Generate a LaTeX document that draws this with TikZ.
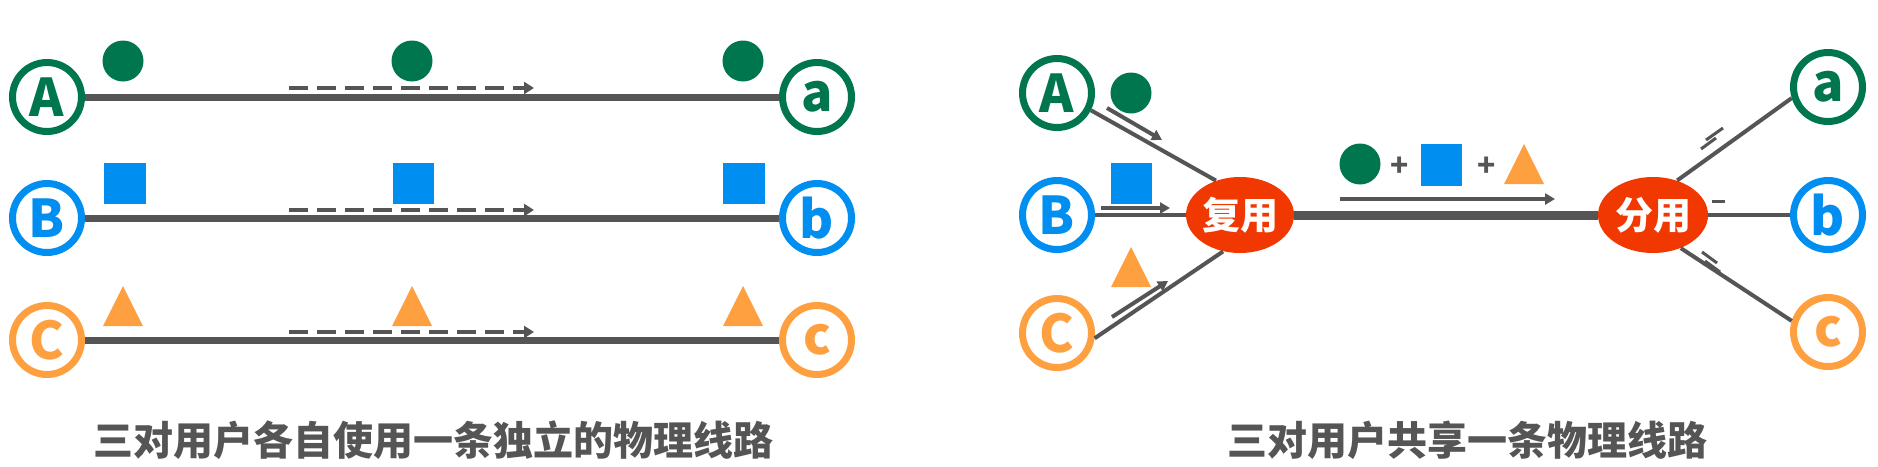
\documentclass[tikz,border=0pt]{standalone}
\usepackage{fontspec}
\setmainfont{Noto Sans CJK SC}
\usepackage{xcolor}
\usetikzlibrary{calc,arrows.meta,shapes.geometric}

\definecolor{usergreen}{RGB}{0,118,78}
\definecolor{userblue}{RGB}{0,142,240}
\definecolor{userorange}{RGB}{255,160,64}
\definecolor{muxred}{RGB}{240,56,0}
\definecolor{wiregray}{RGB}{85,85,85}

\tikzset{
  user/.style={circle, draw=#1, line width=3.5pt, fill=white, text=#1,
    minimum size=34.5pt, inner sep=0pt, font=\fontsize{26}{26}\selectfont\bfseries},
  wire/.style={draw=wiregray, line width=3.5pt},
  thinwire/.style={draw=wiregray, line width=2pt},
  trunk/.style={draw=wiregray, line width=4.5pt},
  flow/.style={draw=wiregray, line width=2.2pt, dash pattern=on 9.5pt off 4.5pt,
    -{Triangle[length=5pt,width=6pt]}},
  pointer/.style={draw=wiregray, line width=2pt, -{Triangle[length=5pt,width=5.5pt]}},
  tick/.style={draw=wiregray, line width=1.5pt},
  hub/.style={ellipse, fill=muxred, text=white, inner sep=0pt,
    minimum width=54pt, minimum height=38pt, font=\fontsize{19}{19}\selectfont\bfseries},
  caption/.style={text=wiregray, font=\fontsize{20}{20}\selectfont\bfseries},
  plus/.style={text=wiregray, inner sep=0pt, font=\fontsize{15}{15}\selectfont\bfseries}
}

\begin{document}
\begin{tikzpicture}[x=0.5pt,y=-0.5pt]
    \useasboundingbox (0,0) rectangle (1878,466);

    % Three separate lines
    \begin{scope}
        \node[user=usergreen] (uA) at (47,97) {A};
        \node[user=userblue] (uB) at (47,218) {B};
        \node[user=userorange] (uC) at (47,340) {C};
        \node[user=usergreen] (da) at (817,97) {a};
        \node[user=userblue] (db) at (817,218) {b};
        \node[user=userorange] (dc) at (817,340) {c};

        \draw[wire] (uA) -- (da);
        \draw[wire] (uB) -- (db);
        \draw[wire] (uC) -- (dc);

        \draw[flow] (289,88) -- (534,88);
        \draw[flow] (289,210) -- (534,210);
        \draw[flow] (289,332) -- (534,332);

        \fill[usergreen] (123,61) circle (20.5);
        \fill[usergreen] (412,61) circle (20.5);
        \fill[usergreen] (743,61) circle (20.5);
        \fill[userblue] (104,163) rectangle (146,204);
        \fill[userblue] (393,163) rectangle (434,204);
        \fill[userblue] (723,163) rectangle (765,204);
        \fill[userorange] (103,326) -- (123,286) -- (143,326) -- cycle;
        \fill[userorange] (392,326) -- (412,286) -- (432,326) -- cycle;
        \fill[userorange] (723,326) -- (743,286) -- (763,326) -- cycle;

        \node[caption] (capL) at (433,440) {三对用户各自使用一条独立的物理线路};
    \end{scope}

    % One shared line
    \begin{scope}
        \node[user=usergreen] (sA) at (1057,93) {A};
        \node[user=userblue] (sB) at (1057,215) {B};
        \node[user=userorange] (sC) at (1057,333) {C};
        \node[hub] (mux) at (1240,215) {复用};
        \node[hub, minimum width=55pt] (demux) at (1653,215) {分用};
        \node[user=usergreen] (ra) at (1828,87) {a};
        \node[user=userblue] (rb) at (1828,215) {b};
        \node[user=userorange] (rc) at (1828,332) {c};

        \draw[thinwire] (sA.-27) -- (mux.125);
        \draw[thinwire] (sB) -- (mux);
        \draw[thinwire] (sC.-8) -- (mux.-115);
        \draw[trunk] (mux) -- (demux);
        \draw[thinwire] (demux.55) -- (ra.197);
        \draw[thinwire] (demux) -- (rb);
        \draw[thinwire] (demux.-50) -- (rc.163);

        \draw[pointer] (1107,108) -- (1162,140);
        \draw[pointer] (1101,208) -- (1170,208);
        \draw[pointer] (1112,317) -- (1168,281);
        \draw[pointer] (1340,199) -- (1555,199);

        % half-drawn arrows after the split
        \draw[tick] (1701,149) -- (1716,138);
        \draw[tick] (1706,140) -- (1723,128);
        \draw[tick] (1712,201) -- (1725,201);
        \draw[tick] (1702,252) -- (1717,263);
        \draw[tick] (1705,261) -- (1720,272);

        \fill[usergreen] (1131,93) circle (20.5);
        \fill[userblue] (1111,163) rectangle (1152,204);
        \fill[userorange] (1111,287) -- (1131,247) -- (1151,287) -- cycle;

        \fill[usergreen] (1360,164) circle (20.5);
        \node[plus] (p1) at (1400,167) {+};
        \fill[userblue] (1421,144) rectangle (1462,186);
        \node[plus] (p2) at (1487,167) {+};
        \fill[userorange] (1504,184) -- (1524,144) -- (1544,184) -- cycle;

        \node[caption] (capR) at (1467,440) {三对用户共享一条物理线路};
    \end{scope}
\end{tikzpicture}
\end{document}
